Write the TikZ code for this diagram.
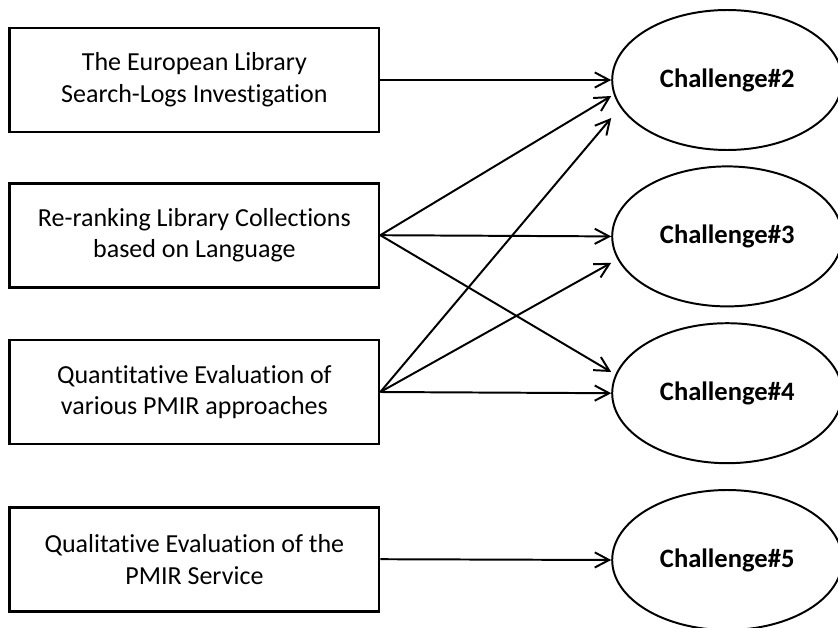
\documentclass[tikz,border=0pt]{standalone}
\usepackage{fontspec}
\setmainfont{Carlito}[Ligatures=NoCommon]
\usetikzlibrary{shapes.geometric,arrows.meta}

\begin{document}
\begin{tikzpicture}[line width=1.4pt, >={Straight Barb[length=3.6mm,width=3.8mm]},
	box/.style={rectangle,draw,line width=1.9pt,minimum height=2.6cm,minimum width=9.23cm,align=center,font=\fontsize{18.5}{22.6}\selectfont},
	challenge/.style={ellipse,draw,line width=1.4pt,minimum height=3.5cm,minimum width=5.75cm,font=\fontsize{18.9}{22}\selectfont\bfseries}]
	\clip (0,0) rectangle (20.95,-15.7);

	\node[box] (tel) at (4.86,-2.0) {The European Library\\Search-Logs Investigation};
	\node[box] (rerank) at (4.86,-5.88) {Re-ranking Library Collections\\based on Language};
	\node[box] (quant) at (4.86,-9.8) {Quantitative Evaluation of\\various PMIR approaches};
	\node[box] (qual) at (4.86,-13.98) {Qualitative Evaluation of the\\PMIR Service};

	\node[challenge] (c2) at (18.18,-2.0) {Challenge\#2};
	\node[challenge] (c3) at (18.18,-5.91) {Challenge\#3};
	\node[challenge] (c4) at (18.18,-9.83) {Challenge\#4};
	\node[challenge] (c5) at (18.18,-14.0) {Challenge\#5};

	\draw[->] (tel.east) -- (c2.west);
	\draw[->] (rerank.east) -- ([yshift=-0.4cm]c2.west);
	\draw[->] (rerank.east) -- (c3.west);
	\draw[->] (rerank.east) -- ([yshift=0.53cm]c4.west);
	\draw[->] (quant.east) -- ([yshift=-0.95cm]c2.west);
	\draw[->] (quant.east) -- ([yshift=-0.66cm]c3.west);
	\draw[->] (quant.east) -- (c4.west);
	\draw[->] (qual.east) -- (c5.west);
\end{tikzpicture}
\end{document}
